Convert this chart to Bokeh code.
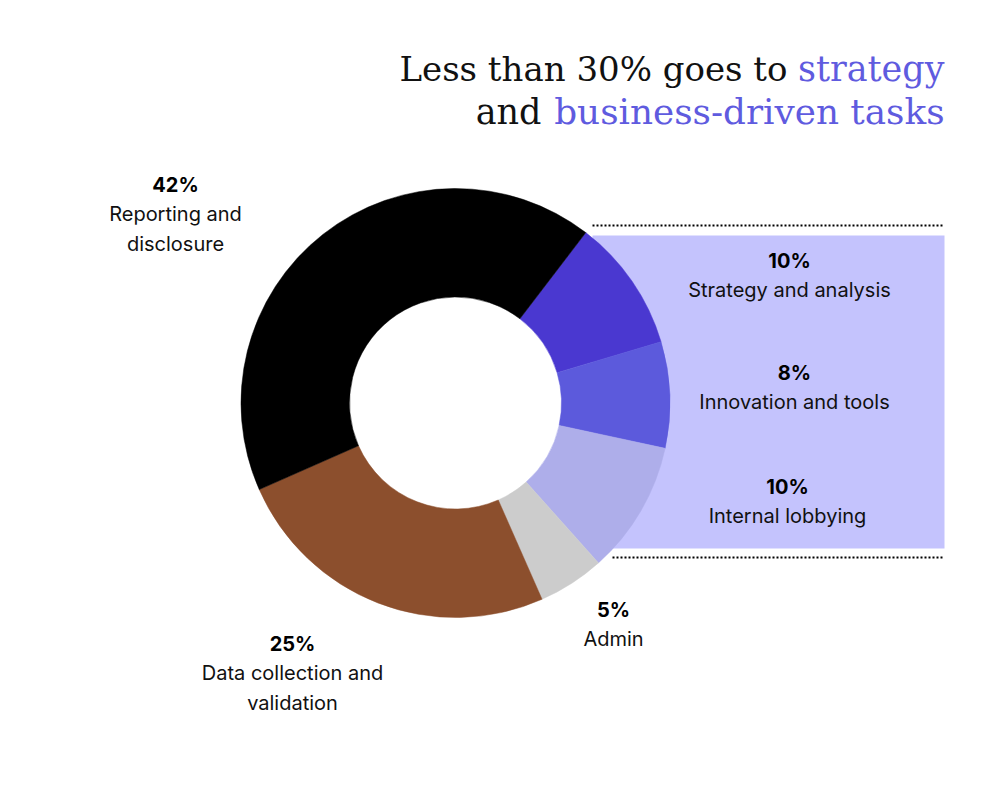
import math
from bokeh.plotting import figure
from bokeh.models import Range1d, ColumnDataSource
from bokeh.core.properties import value
from bokeh.embed import file_html
from bokeh.resources import INLINE

# ---- data ----
categories = ["Strategy and analysis", "Innovation and tools", "Internal lobbying",
              "Admin", "Data collection and validation", "Reporting and disclosure"]
shares = [10, 8, 10, 5, 25, 42]
pct_labels = ["10%", "8%", "10%", "5%", "25%", "42%"]
label_lines = [["Strategy and analysis"], ["Innovation and tools"], ["Internal lobbying"],
               ["Admin"], ["Data collection and", "validation"], ["Reporting and", "disclosure"]]
slice_colors = ["#4a38d0", "#5c5adc", "#aeaeea", "#cccccc", "#8c4f2d", "#000000"]
title_line1 = ["Less than 30% goes to", "strategy"]
title_line2 = ["and", "business-driven tasks"]

# ---- layout (screen pixel coordinates; data y = 784 - screen y) ----
W, H = 984, 784
def Y(sy):
    return H - sy

p = figure(width=W, height=H, output_backend="svg", toolbar_location=None,
           x_range=Range1d(0, W), y_range=Range1d(0, H), min_border=0,
           background_fill_color="white", border_fill_color="white")
p.axis.visible = False
p.grid.visible = False
p.outline_line_color = None

# highlight panel
p.quad(left=[592], right=[944], bottom=[Y(548)], top=[Y(235)],
       fill_color="#c4c3fd", line_color=None)
p.line(x=[592, 944], y=[Y(225), Y(225)], line_color="black", line_width=2, line_dash="2 2")
p.line(x=[612, 944], y=[Y(557), Y(557)], line_color="black", line_width=2, line_dash="2 2")

# donut
cx, cy = 455, Y(402.5)
offset = math.radians(37.4)
total = sum(shares)
starts, ends = [], []
cum = 0
for s in shares:
    a0 = math.pi / 2 - offset - 2 * math.pi * cum / total
    cum += s
    a1 = math.pi / 2 - offset - 2 * math.pi * cum / total
    starts.append(a0)
    ends.append(a1)
src = ColumnDataSource(dict(start=starts, end=ends, color=slice_colors, cat=categories))
p.annular_wedge(x=cx, y=cy, inner_radius=106, outer_radius=214.5,
                start_angle="start", end_angle="end", direction="clock",
                fill_color="color", line_color="color", line_width=0.5, source=src)

# labels
label_pos = [(789, 260), (794, 372), (787, 486), (613, 609), (292, 643), (175, 184)]
lh = 29.5
for i, (lx, ly) in enumerate(label_pos):
    p.text(x=[lx], y=[Y(ly)], text=[pct_labels[i]], text_align="center",
           text_baseline="middle", text_font=value("Inter"), text_font_size="20px",
           text_font_style="bold", text_color="black")
    for j, line in enumerate(label_lines[i]):
        p.text(x=[lx], y=[Y(ly + lh * (j + 1))], text=[line], text_align="center",
               text_baseline="middle", text_font=value("Inter"), text_font_size="20px",
               text_color="#111111")

# title (right aligned, two colours)
purple = "#5f5bdf"
tf = value("DejaVu Serif")
b1, b2 = 68, 111
p.text(x=[944], y=[Y(b1)], text=[title_line1[1]], text_align="right",
       text_baseline="alphabetic", text_font=tf, text_font_size="35px", text_color=purple)
p.text(x=[787], y=[Y(b1)], text=[title_line1[0]], text_align="right",
       text_baseline="alphabetic", text_font=tf, text_font_size="34px", text_color="#111111")
p.text(x=[944], y=[Y(b2)], text=[title_line2[1]], text_align="right",
       text_baseline="alphabetic", text_font=tf, text_font_size="35.8px", text_color=purple)
p.text(x=[541], y=[Y(b2)], text=[title_line2[0]], text_align="right",
       text_baseline="alphabetic", text_font=tf, text_font_size="35px", text_color="#111111")

open("out.html", "w").write(file_html(p, INLINE))
